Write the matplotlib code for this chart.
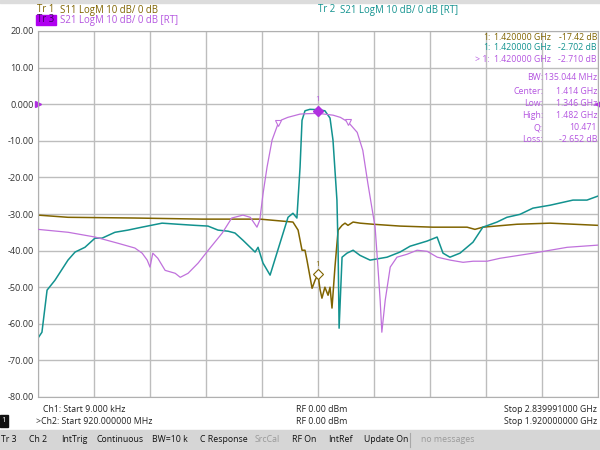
import matplotlib.pyplot as plt
from matplotlib.patches import Rectangle
import numpy as np

plt.rcParams['font.family'] = ['Open Sans', 'DejaVu Sans']

# Tr1 S11, channel 1 (MHz, dB)
s11_f = [0, 152, 492, 832, 999, 1126, 1293, 1319, 1339, 1354, 1364, 1390, 1405, 1420, 1430,
         1440, 1455, 1471, 1481, 1491, 1506, 1522, 1542, 1557, 1572, 1598, 1633, 1699, 1836,
         2003, 2176, 2216, 2256, 2429, 2597, 2840]
s11_db = [-30.3, -30.9, -31.1, -31.4, -31.4, -31.4, -32.2, -34.4, -39.9, -39.9, -42.6, -50.3,
          -48.1, -46.5, -50.5, -53.0, -50.0, -52.2, -50.0, -55.7, -44.5, -34.4, -33.1, -32.5,
          -33.1, -32.2, -32.5, -32.8, -33.3, -33.6, -33.6, -34.2, -33.6, -32.8, -32.5, -33.1]

# Tr2 S21, channel 1
s21a_f = [0, 20, 46, 86, 152, 188, 238, 289, 325, 390, 456, 527, 629, 710, 796, 862, 913, 964,
          999, 1040, 1101, 1116, 1141, 1177, 1227, 1268, 1293, 1313, 1329, 1339, 1354, 1379,
          1420, 1455, 1481, 1496, 1516, 1522, 1527, 1542, 1567, 1598, 1633, 1684, 1770, 1836,
          1887, 1973, 2024, 2054, 2089, 2140, 2206, 2256, 2328, 2378, 2444, 2510, 2597, 2713,
          2784, 2840]
s21a_db = [-63.9, -62.3, -50.8, -48.1, -42.6, -40.4, -39.1, -36.6, -36.6, -35.0, -34.4, -33.6,
           -32.5, -32.8, -33.1, -33.3, -34.4, -34.7, -35.2, -37.2, -40.4, -39.1, -43.4, -46.7,
           -38.0, -30.9, -29.8, -31.1, -17.2, -4.4, -1.8, -1.4, -1.5, -1.8, -3.8, -9.8, -26.2,
           -39.9, -61.2, -41.8, -40.7, -39.9, -41.3, -42.6, -41.8, -40.4, -38.8, -37.4, -36.3,
           -40.7, -41.8, -40.7, -37.7, -33.6, -32.2, -30.9, -30.1, -28.4, -27.6, -26.2, -26.2,
           -25.1]

# Tr3 S21, channel 2
s21b_f = [920, 974, 1022, 1063, 1093, 1106, 1115, 1120, 1125, 1134, 1147, 1165, 1174, 1188,
          1206, 1224, 1249, 1266, 1286, 1299, 1311, 1316, 1322, 1329, 1338, 1349, 1355, 1366,
          1388, 1400, 1420, 1447, 1460, 1474, 1490, 1500, 1509, 1516, 1522, 1527, 1531, 1534,
          1540, 1549, 1561, 1579, 1597, 1615, 1633, 1656, 1679, 1697, 1722, 1745, 1804, 1865,
          1920]
s21b_db = [-34.2, -35.0, -36.3, -38.0, -39.3, -40.7, -42.6, -44.5, -40.7, -42.1, -45.4, -46.2,
           -47.3, -46.2, -43.4, -39.9, -35.2, -31.1, -30.3, -30.9, -33.6, -31.7, -24.3, -17.2,
           -9.8, -5.2, -4.3, -3.6, -2.7, -2.6, -2.5, -3.0, -3.6, -4.9, -7.7, -12.6, -21.6,
           -28.1, -33.6, -44.5, -53.6, -62.3, -53.6, -44.5, -41.8, -41.0, -39.9, -40.2, -41.8,
           -42.6, -43.2, -42.9, -42.9, -42.1, -40.7, -39.1, -38.5]

bw_edges = [1349, 1474]
marker_f = 1420

yticks = [20, 10, 0, -10, -20, -30, -40, -50, -60, -70, -80]
ylabels = ['20.00', '10.00', '0.000', '-10.00', '-20.00', '-30.00', '-40.00', '-50.00',
           '-60.00', '-70.00', '-80.00']

c_s11 = '#806400'
c_s21a = '#12928f'
c_s21b = '#c071dc'
c_txt3 = '#b455e0'

fig = plt.figure(figsize=(6, 4.5), dpi=100)

def px(x, y):
    return x / 600, 1 - y / 450

ax = fig.add_axes([38 / 600, 1 - 397 / 450, 560 / 600, 366 / 450])
ax.set_xlim(0.009e-3, 2839.991)
ax.set_ylim(-80, 20)
ax.set_xticks(np.linspace(0.009e-3, 2839.991, 11))
ax.set_xticklabels([])
ax.tick_params(axis='x', length=0)
ax.set_yticks(yticks)
ax.set_yticklabels(ylabels, fontsize=6.6, color='#333333')
ax.tick_params(axis='y', length=0, pad=3)
ax.grid(True, color='#bdbdbd', lw=1)
for s in ax.spines.values():
    s.set_color('#b0b0b0')

ax.plot(s11_f, s11_db, color=c_s11, lw=1.1)
ax.plot(s21a_f, s21a_db, color=c_s21a, lw=1.1)

ax2 = ax.twiny()
ax2.set_xlim(920, 1920)
ax2.set_xticks([])
for s in ax2.spines.values():
    s.set_visible(False)
ax2.plot(s21b_f, s21b_db, color=c_s21b, lw=0.9)

# markers
m3 = np.interp(marker_f, s21b_f, s21b_db)
ax2.plot([marker_f], [m3 + 0.6], marker='D', ms=5, color='#b030e0', mec='#b030e0')
ax2.annotate('1', (marker_f, m3), xytext=(0, 9), textcoords='offset points',
             ha='center', fontsize=5.5, color=c_txt3)
for f in bw_edges:
    ax2.plot([f], [np.interp(f, s21b_f, s21b_db)], marker='v', ms=4, mfc='white',
             mec=c_s21b, mew=0.8)
m1 = np.interp(marker_f, s11_f, s11_db)
ax.plot([marker_f], [m1], marker='D', ms=5, mfc='white', mec=c_s11, mew=0.8)
ax.annotate('1', (marker_f, m1), xytext=(0, 6), textcoords='offset points',
            ha='center', fontsize=5.5, color=c_s11)

# reference level arrows
ax.plot([0], [0], marker='>', ms=4, color='#b030e0', transform=ax.get_yaxis_transform(),
        clip_on=False)
ax.plot([1], [0], marker='<', ms=4, color='#b030e0', transform=ax.get_yaxis_transform(),
        clip_on=False)

fs = 6.3
hfs = 6.9
# header
fig.add_artist(Rectangle((0, 1 - 3 / 450), 1, 3 / 450, color='#dcdcdc', transform=fig.transFigure))
fig.text(*px(37, 10), 'Tr 1', fontsize=hfs, color=c_s11, va='center')
fig.text(*px(60, 10), 'S11 LogM 10 dB/ 0 dB', fontsize=hfs, color=c_s11, va='center')
fig.add_artist(Rectangle(px(36, 25), 20 / 600, 10 / 450, color='#b000f0', transform=fig.transFigure))
fig.text(*px(37, 20), 'Tr 3', fontsize=hfs, color='#400060', va='center')
fig.text(*px(60, 20), 'S21 LogM 10 dB/ 0 dB [RT]', fontsize=hfs, color=c_txt3, va='center')
fig.text(*px(318, 10), 'Tr 2', fontsize=hfs, color=c_s21a, va='center')
fig.text(*px(340, 10), 'S21 LogM 10 dB/ 0 dB [RT]', fontsize=hfs, color=c_s21a, va='center')

# marker readouts
rows = [('1:', '1.420000 GHz', '-17.42 dB', c_s11, 37),
        ('1:', '1.420000 GHz', '-2.702 dB', c_s21a, 48),
        ('> 1:', '1.420000 GHz', '-2.710 dB', c_txt3, 60)]
for lab, fq, val, c, y in rows:
    fig.text(*px(490, y), lab, fontsize=fs, color=c, ha='right', va='center')
    fig.text(*px(494, y), fq, fontsize=fs, color=c, ha='left', va='center')
    fig.text(*px(597, y), val, fontsize=fs, color=c, ha='right', va='center')
stats = [('BW:', '135.044 MHz', 78), ('Center:', '1.414 GHz', 91), ('Low:', '1.346 GHz', 103),
         ('High:', '1.482 GHz', 116), ('Q:', '10.471', 128), ('Loss:', '-2.652 dB', 140)]
for lab, val, y in stats:
    fig.text(*px(543, y), lab, fontsize=fs, color=c_txt3, ha='right', va='center')
    fig.text(*px(597, y), val, fontsize=fs, color=c_txt3, ha='right', va='center')

# channel lines
fig.text(*px(43, 409), 'Ch1: Start 9.000 kHz', fontsize=fs, color='#222222', va='center')
fig.text(*px(296, 409), 'RF 0.00 dBm', fontsize=fs, color='#222222', va='center')
fig.text(*px(597, 409), 'Stop 2.839991000 GHz', fontsize=fs, color='#222222', va='center', ha='right')
fig.text(*px(36, 421), '>Ch2: Start 920.000000 MHz', fontsize=fs, color='#222222', va='center')
fig.text(*px(296, 421), 'RF 0.00 dBm', fontsize=fs, color='#222222', va='center')
fig.text(*px(597, 421), 'Stop 1.920000000 GHz', fontsize=fs, color='#222222', va='center', ha='right')
fig.add_artist(Rectangle(px(0, 427), 8 / 600, 12 / 450, color='#111111', transform=fig.transFigure))
fig.text(*px(4, 421), '1', fontsize=5.5, color='white', va='center', ha='center')

# status bar
fig.add_artist(Rectangle((0, 0), 1, 20 / 450, color='#d6d6d6', transform=fig.transFigure))
status = [('Tr 3', 1), ('Ch 2', 29), ('IntTrig', 61), ('Continuous', 97), ('BW=10 k', 152),
          ('C Response', 200), ('SrcCal', 255), ('RF On', 292), ('IntRef', 328),
          ('Update On', 364), ('no messages', 421)]
for t, x in status:
    c = '#9a9a9a' if t in ('SrcCal', 'no messages') else '#111111'
    fig.text(*px(x, 440), t, fontsize=fs, color=c, va='center')
fig.add_artist(plt.Line2D([410 / 600, 410 / 600], [3 / 450, 17 / 450], color='#a8a8a8', lw=0.8,
                          transform=fig.transFigure))

fig.savefig('out.png', dpi=100)
